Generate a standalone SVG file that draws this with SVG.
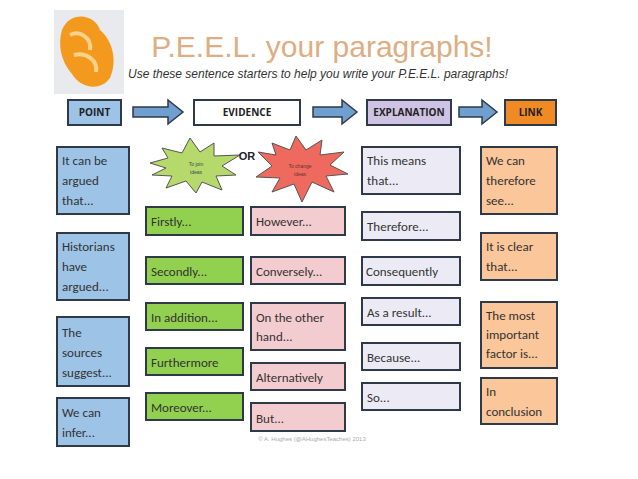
<svg xmlns="http://www.w3.org/2000/svg" width="638" height="479" viewBox="0 0 638 479">
<style>
text{font-family:"Liberation Sans","DejaVu Sans",sans-serif;}
.t{font-family:Calibri,"Open Sans","Liberation Sans",sans-serif;font-size:13px;fill:#333;}
.b{stroke:#2e3a4a;stroke-width:2;}
.pt{fill:#9dc3e6;}.gr{fill:#92d050;}.pk{fill:#f3cccf;}.ex{fill:#ecebf5;}.lk{fill:#fbc699;}
.arr{fill:#6f9fcf;stroke:#2e3a4a;stroke-width:1.5;}
.h{font-family:"Open Sans","Liberation Sans",sans-serif;font-size:10px;font-weight:bold;fill:#222;text-anchor:middle;}
</style>
<rect width="638" height="479" fill="#fff"/>
<g id="logo">
<rect x="54" y="10" width="70" height="84" fill="#e8eaee"/>
<path d="M62 30 C70 10 95 14 100 30 C112 40 118 60 110 78 C100 92 80 88 72 74 C60 60 58 44 62 30Z" fill="#f39a1e"/>
<path d="M70 35 C80 30 92 38 90 50 M74 55 C86 52 98 60 96 72" stroke="#fbd08a" stroke-width="4" fill="none"/>
</g>
<g id="title">
<text x="322" y="57" font-size="30" fill="#dcae82" text-anchor="middle" font-family="'Open Sans','Liberation Sans',sans-serif">P.E.E.L. your paragraphs!</text>
<text x="318" y="78" font-size="12" font-style="italic" fill="#333" text-anchor="middle">Use these sentence starters to help you write your P.E.E.L. paragraphs!</text>
</g>
<g id="connectors">
<path class="arr" d="M133 107 H168 V100 L183 112 L168 124 V117 H133Z"/>
<path class="arr" d="M313 107 H342 V100 L357 112 L342 124 V117 H313Z"/>
<path class="arr" d="M459 107 H482 V100 L497 112 L482 124 V117 H459Z"/>
</g>
<g id="head-point"><rect class="b pt" x="68" y="100" width="53" height="25"/><text class="h" x="94.5" y="116">POINT</text></g>
<g id="head-evidence"><rect class="b" fill="#fff" x="194" y="100" width="106" height="25"/><text class="h" x="247" y="116">EVIDENCE</text></g>
<g id="head-explanation"><rect class="b" fill="#cfc3e3" x="367" y="100" width="84" height="25"/><text class="h" x="409" y="116">EXPLANATION</text></g>
<g id="head-link"><rect class="b" fill="#f08a24" x="505" y="100" width="51" height="25"/><text class="h" x="530.5" y="116">LINK</text></g>

<g id="p1"><rect class="b pt" x="57" y="147" width="72" height="67"/><text class="t" x="62" y="165">It can be</text><text class="t" x="62" y="185">argued</text><text class="t" x="62" y="205">that...</text></g>
<g id="p2"><rect class="b pt" x="57" y="233" width="72" height="67"/><text class="t" x="62" y="251">Historians</text><text class="t" x="62" y="271">have</text><text class="t" x="62" y="291">argued...</text></g>
<g id="p3"><rect class="b pt" x="57" y="317" width="72" height="69"/><text class="t" x="62" y="337">The</text><text class="t" x="62" y="357">sources</text><text class="t" x="62" y="377">suggest...</text></g>
<g id="p4"><rect class="b pt" x="57" y="398" width="72" height="48"/><text class="t" x="62" y="417">We can</text><text class="t" x="62" y="437">infer...</text></g>

<g id="burst-green">
<polygon points="150,163 168,158 162,148 182,153 190,138 200,152 214,143 214,156 240,155 222,166 236,175 216,176 222,190 202,182 196,193 186,181 166,188 172,176 152,175 166,168" fill="#b5d96a" stroke="#555" stroke-width="1"/>
<text x="196" y="166" font-size="5" text-anchor="middle" fill="#445">To join</text><text x="196" y="174" font-size="5" text-anchor="middle" fill="#445">ideas</text>
</g>
<text x="247" y="160" font-size="11" font-weight="bold" fill="#222" text-anchor="middle">OR</text>
<g id="burst-red">
<polygon points="258,152 276,155 272,143 290,150 296,136 306,150 322,140 320,155 344,152 330,165 348,174 326,176 334,192 312,182 302,202 294,184 272,192 280,178 256,177 272,166" fill="#ee6a5e" stroke="#555" stroke-width="1"/>
<text x="300" y="168" font-size="5" text-anchor="middle" fill="#633">To change</text><text x="300" y="176" font-size="5" text-anchor="middle" fill="#633">ideas</text>
</g>

<g id="g1"><rect class="b gr" x="146" y="207" width="97" height="28"/><text class="t" x="151" y="226">Firstly...</text></g>
<g id="g2"><rect class="b gr" x="146" y="257" width="97" height="27"/><text class="t" x="151" y="276">Secondly...</text></g>
<g id="g3"><rect class="b gr" x="146" y="303" width="97" height="27"/><text class="t" x="151" y="322">In addition...</text></g>
<g id="g4"><rect class="b gr" x="146" y="348" width="97" height="27"/><text class="t" x="151" y="367">Furthermore</text></g>
<g id="g5"><rect class="b gr" x="146" y="393" width="97" height="27"/><text class="t" x="151" y="412">Moreover...</text></g>

<g id="r1"><rect class="b pk" x="251" y="207" width="94" height="28"/><text class="t" x="256" y="226">However...</text></g>
<g id="r2"><rect class="b pk" x="251" y="257" width="94" height="27"/><text class="t" x="256" y="276">Conversely...</text></g>
<g id="r3"><rect class="b pk" x="251" y="303" width="94" height="47"/><text class="t" x="256" y="322">On the other</text><text class="t" x="256" y="341">hand...</text></g>
<g id="r4"><rect class="b pk" x="251" y="363" width="94" height="27"/><text class="t" x="256" y="382">Alternatively</text></g>
<g id="r5"><rect class="b pk" x="251" y="403" width="94" height="28"/><text class="t" x="256" y="423">But...</text></g>

<g id="e1"><rect class="b ex" x="362" y="147" width="98" height="47"/><text class="t" x="367" y="165">This means</text><text class="t" x="367" y="185">that...</text></g>
<g id="e2"><rect class="b ex" x="362" y="212" width="98" height="28"/><text class="t" x="367" y="231">Therefore...</text></g>
<g id="e3"><rect class="b ex" x="362" y="257" width="98" height="28"/><text class="t" x="366" y="276">Consequently</text></g>
<g id="e4"><rect class="b ex" x="362" y="298" width="98" height="27"/><text class="t" x="367" y="317">As a result...</text></g>
<g id="e5"><rect class="b ex" x="362" y="343" width="98" height="27"/><text class="t" x="367" y="362">Because...</text></g>
<g id="e6"><rect class="b ex" x="362" y="383" width="98" height="27"/><text class="t" x="367" y="402">So...</text></g>

<g id="l1"><rect class="b lk" x="481" y="147" width="76" height="67"/><text class="t" x="486" y="165">We can</text><text class="t" x="486" y="185">therefore</text><text class="t" x="486" y="205">see...</text></g>
<g id="l2"><rect class="b lk" x="481" y="233" width="76" height="47"/><text class="t" x="486" y="251">It is clear</text><text class="t" x="486" y="271">that...</text></g>
<g id="l3"><rect class="b lk" x="481" y="302" width="76" height="66"/><text class="t" x="486" y="320">The most</text><text class="t" x="486" y="339">important</text><text class="t" x="486" y="358">factor is...</text></g>
<g id="l4"><rect class="b lk" x="481" y="378" width="76" height="46"/><text class="t" x="486" y="396">In</text><text class="t" x="486" y="416">conclusion</text></g>

<text x="312" y="441" font-size="6" fill="#aaa" text-anchor="middle">© A. Hughes (@AHughesTeaches) 2013</text>
</svg>
